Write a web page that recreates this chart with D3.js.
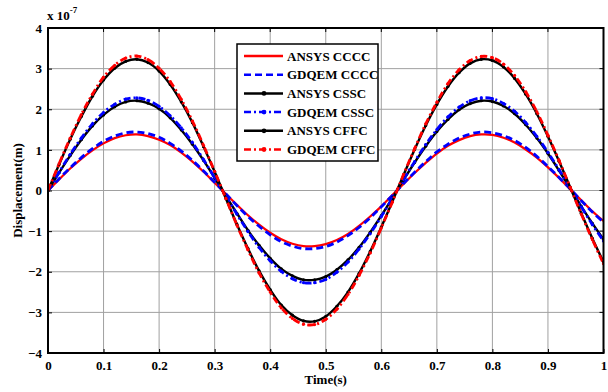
<!DOCTYPE html>
<html><head><meta charset="utf-8">
<script src="https://cdn.jsdelivr.net/npm/d3@7"></script>
<style>body{margin:0;background:#fff}svg{display:block}text{font-family:"Liberation Serif","Times New Roman",serif;font-weight:bold}</style>
</head><body><svg id="c" width="608" height="392"></svg>
<script>
const time = [0,0.02,0.04,0.06,0.08,0.1,0.12,0.14,0.16,0.18,0.2,0.22,0.24,0.26,0.28,0.3,0.32,0.34,0.36,0.38,0.4,0.42,0.44,0.46,0.48,0.5,0.52,0.54,0.56,0.58,0.6,0.62,0.64,0.66,0.68,0.7,0.72,0.74,0.76,0.78,0.8,0.82,0.84,0.86,0.88,0.9,0.92,0.94,0.96,0.98,1];
const ansysCCCC = [0,0.27,0.54,0.78,0.99,1.16,1.29,1.36,1.38,1.34,1.25,1.12,0.93,0.71,0.46,0.19,-0.08,-0.35,-0.61,-0.84,-1.04,-1.20,-1.31,-1.37,-1.37,-1.32,-1.22,-1.07,-0.87,-0.64,-0.39,-0.11,0.16,0.43,0.68,0.91,1.10,1.24,1.34,1.38,1.37,1.30,1.18,1.01,0.81,0.57,0.31,0.03,-0.24,-0.51,-0.75];
const gdqemCCCC = [0,0.29,0.56,0.81,1.03,1.21,1.34,1.42,1.44,1.40,1.31,1.16,0.97,0.74,0.48,0.20,-0.08,-0.37,-0.64,-0.88,-1.09,-1.26,-1.37,-1.43,-1.43,-1.38,-1.27,-1.11,-0.91,-0.67,-0.40,-0.12,0.17,0.45,0.71,0.95,1.14,1.29,1.39,1.44,1.42,1.35,1.23,1.06,0.84,0.59,0.32,0.04,-0.25,-0.53,-0.78];
const ansysCSSC = [0,0.44,0.86,1.25,1.59,1.86,2.06,2.18,2.21,2.15,2.01,1.79,1.49,1.14,0.74,0.31,-0.13,-0.56,-0.98,-1.35,-1.67,-1.93,-2.10,-2.20,-2.20,-2.12,-1.95,-1.71,-1.40,-1.03,-0.62,-0.18,0.26,0.69,1.09,1.45,1.75,1.99,2.14,2.21,2.19,2.08,1.89,1.62,1.29,0.91,0.49,0.05,-0.39,-0.81,-1.20];
const gdqemCSSC = [0,0.45,0.89,1.29,1.64,1.92,2.12,2.25,2.28,2.22,2.07,1.84,1.54,1.18,0.76,0.32,-0.13,-0.58,-1.01,-1.40,-1.73,-1.99,-2.17,-2.27,-2.27,-2.19,-2.01,-1.76,-1.44,-1.06,-0.64,-0.19,0.27,0.71,1.13,1.50,1.81,2.05,2.21,2.28,2.26,2.14,1.95,1.67,1.33,0.94,0.51,0.06,-0.40,-0.84,-1.24];
const ansysCFFC = [0,0.64,1.26,1.82,2.32,2.72,3.01,3.18,3.23,3.15,2.94,2.61,2.18,1.67,1.08,0.46,-0.19,-0.83,-1.43,-1.98,-2.44,-2.82,-3.07,-3.21,-3.22,-3.10,-2.85,-2.50,-2.04,-1.50,-0.90,-0.27,0.38,1.01,1.60,2.12,2.56,2.90,3.13,3.23,3.20,3.04,2.76,2.37,1.89,1.33,0.72,0.08,-0.56,-1.18,-1.76];
const gdqemCFFC = [0,0.66,1.29,1.87,2.37,2.79,3.08,3.26,3.31,3.22,3.01,2.68,2.24,1.71,1.11,0.47,-0.19,-0.85,-1.46,-2.03,-2.50,-2.89,-3.15,-3.29,-3.30,-3.17,-2.92,-2.56,-2.09,-1.54,-0.92,-0.28,0.39,1.03,1.64,2.17,2.63,2.97,3.20,3.30,3.27,3.11,2.83,2.43,1.94,1.36,0.74,0.08,-0.58,-1.21,-1.80];
const seriesNames = ["ANSYS CCCC","GDQEM CCCC","ANSYS CSSC","GDQEM CSSC","ANSYS CFFC","GDQEM CFFC"];
const xTicks = [0,0.1,0.2,0.3,0.4,0.5,0.6,0.7,0.8,0.9,1];
const yTicks = [-4,-3,-2,-1,0,1,2,3,4];

const styles = [
  {color:"#ff0000", dash:null, w:2.2, dot:false},
  {color:"#0000ff", dash:"7,4", w:2.8, dot:false},
  {color:"#000000", dash:null, w:2.4, dot:true},
  {color:"#0000ff", dash:"7,3,2,3", w:2.8, dot:true},
  {color:"#000000", dash:null, w:2.4, dot:true},
  {color:"#ff0000", dash:"7,3,2,3", w:2.8, dot:true}
];
const data = [ansysCCCC,gdqemCCCC,ansysCSSC,gdqemCSSC,ansysCFFC,gdqemCFFC];

const svg = d3.select("#c");
const L=48,R=603.5,T=28,B=353;
const x = d3.scaleLinear().domain([0,1]).range([L,R]);
const y = d3.scaleLinear().domain([-4,4]).range([B,T]);

// grid
const g = svg.append("g");
g.selectAll(".gx").data(xTicks.slice(1,-1)).join("line").attr("x1",d=>x(d)).attr("x2",d=>x(d)).attr("y1",T).attr("y2",B).attr("stroke","#a0a0a0").attr("stroke-width",1);
g.selectAll(".gy").data(yTicks.slice(1,-1)).join("line").attr("y1",d=>y(d)).attr("y2",d=>y(d)).attr("x1",L).attr("x2",R).attr("stroke","#a0a0a0").attr("stroke-width",1);

// curves
const line = d3.line().x((d,i)=>x(time[i])).y(d=>y(d)).curve(d3.curveCatmullRom);
const clip = svg.append("clipPath").attr("id","cl").append("rect").attr("x",L).attr("y",T).attr("width",R-L).attr("height",B-T);
const cg = svg.append("g").attr("clip-path","url(#cl)");
data.forEach((arr,k)=>{
  const s=styles[k];
  cg.append("path").attr("d",line(arr)).attr("fill","none").attr("stroke",s.color).attr("stroke-width",s.w).attr("stroke-dasharray",s.dash);
  if(s.dot){
    cg.selectAll(null).data(arr).join("circle").attr("cx",(d,i)=>x(time[i])).attr("cy",d=>y(d)).attr("r",1.6).attr("fill",s.color);
  }
});

// axes
const ax = d3.axisBottom(x).tickValues(xTicks).tickSize(-4).tickPadding(8).tickFormat(d=>d===0||d===1?d:d3.format(".1f")(d));
const axg = svg.append("g").attr("transform",`translate(0,${B})`).call(ax);
const ay = d3.axisLeft(y).tickValues(yTicks).tickSize(-4).tickPadding(6).tickFormat(d3.format("d"));
const ayg = svg.append("g").attr("transform",`translate(${L},0)`).call(ay);
[axg,ayg].forEach(a=>{a.select(".domain").remove();a.selectAll("line").attr("stroke","#000");a.selectAll("text").attr("font-size",13).attr("font-family","Liberation Serif").attr("font-weight","bold").attr("fill","#000");});
// top/right ticks
svg.append("g").selectAll("line").data(xTicks).join("line").attr("x1",d=>x(d)).attr("x2",d=>x(d)).attr("y1",T).attr("y2",T+4).attr("stroke","#000");
svg.append("g").selectAll("line").data(yTicks).join("line").attr("y1",d=>y(d)).attr("y2",d=>y(d)).attr("x1",R).attr("x2",R-4).attr("stroke","#000");
svg.append("rect").attr("x",L).attr("y",T).attr("width",R-L).attr("height",B-T).attr("fill","none").attr("stroke","#000").attr("stroke-width",2);

// labels
svg.append("text").attr("x",(L+R)/2).attr("y",384).attr("text-anchor","middle").attr("font-size",13).text("Time(s)");
svg.append("text").attr("transform",`translate(22,${(T+B)/2}) rotate(-90)`).attr("text-anchor","middle").attr("font-size",13).text("Displacement(m)");
const mt = svg.append("text").attr("x",47).attr("y",20).attr("font-size",13);
mt.append("tspan").text("x 10");
mt.append("tspan").attr("dy",-7).attr("font-size",9).text("-7");

// legend
const lg = svg.append("g");
lg.append("rect").attr("x",237).attr("y",44).attr("width",141).attr("height",117).attr("fill","#fff").attr("stroke","#000").attr("stroke-width",1.5);
seriesNames.forEach((n,k)=>{
  const s=styles[k], yy=56+k*18.7;
  lg.append("line").attr("x1",244).attr("x2",283).attr("y1",yy).attr("y2",yy).attr("stroke",s.color).attr("stroke-width",2.5).attr("stroke-dasharray",s.dash);
  if(s.dot) lg.append("circle").attr("cx",264).attr("cy",yy).attr("r",2.4).attr("fill",s.color);
  lg.append("text").attr("x",287).attr("y",yy+4.5).attr("font-size",13).text(n);
});
</script></body></html>
